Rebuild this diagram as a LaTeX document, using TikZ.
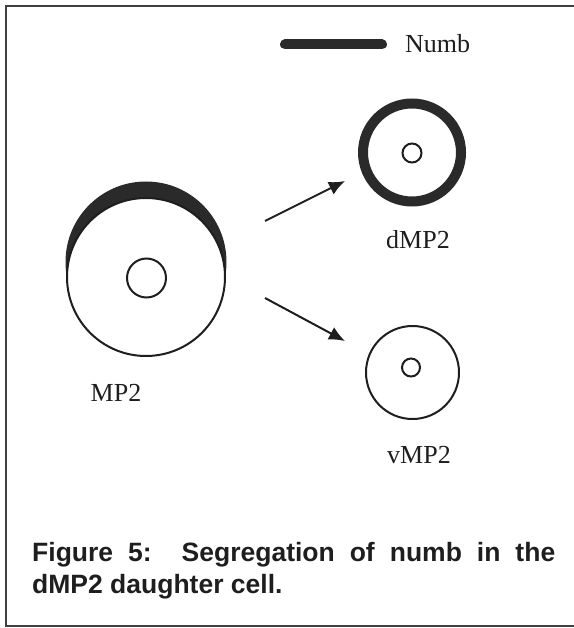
\documentclass[tikz,border=0pt]{standalone}
\usepackage{fontspec}
\setmainfont{Liberation Serif}
\newfontfamily\capfont{Liberation Sans}
\usetikzlibrary{arrows.meta}
\definecolor{ink}{HTML}{1E1E1E}
\definecolor{numbfill}{HTML}{2A2A2A}
\tikzset{
  cellwall/.style={circle, draw=ink, fill=white, line width=2pt, inner sep=0pt},
  nucleus/.style={circle, draw=ink, fill=white, line width=2pt, inner sep=0pt},
  celllabel/.style={font=\fontsize{26}{30}\selectfont, text=ink, inner sep=0pt},
  division/.style={draw=ink, line width=2pt, -{Latex[length=16pt,width=14pt]}},
  framestroke/.style={draw=ink!85, line width=2pt},
}
\begin{document}
\begin{tikzpicture}[x=1pt, y=-1pt]
\useasboundingbox (0,0) rectangle (573,628);

% open frame (no right side)
\coordinate (fr1) at (574,6.5);
\coordinate (fr2) at (5.5,6.5);
\coordinate (fr3) at (5.5,626);
\coordinate (fr4) at (574,626);
\draw[framestroke] (fr1) -- (fr2) -- (fr3) -- (fr4);

% legend
\coordinate (lg1) at (285,44.5);
\coordinate (lg2) at (382,44.5);
\draw[draw=numbfill, line width=10pt, line cap=round] (lg1) -- (lg2);
\node[celllabel, anchor=west] (numblab) at (405,44) {Numb};

% mother cell with its Numb crescent
\fill[numbfill] (146,262) circle[radius=80.5];
\node[cellwall, minimum size=158pt] (mp2) at (146,277) {};
\node[nucleus, minimum size=39pt] (mp2n) at (146.5,278) {};
\node[celllabel] (mp2lab) at (116,393) {MP2};

% dorsal daughter inherits Numb
\node[circle, draw=numbfill, fill=white, line width=10pt, inner sep=0pt, minimum size=98pt] (dmp2) at (412,152.5) {};
\node[nucleus, minimum size=19pt] (dmp2n) at (412,153) {};
\node[celllabel] (dmp2lab) at (418,240) {dMP2};

% ventral daughter
\node[cellwall, minimum size=93pt] (vmp2) at (412.5,372.5) {};
\node[nucleus, minimum size=18pt] (vmp2n) at (411,367.5) {};
\node[celllabel] (vmp2lab) at (419,455) {vMP2};

% division arrows
\coordinate (a1s) at (265,221);
\coordinate (a1e) at (345,181);
\coordinate (a2s) at (265,298);
\coordinate (a2e) at (345,341);
\draw[division] (a1s) -- (a1e);
\draw[division] (a2s) -- (a2e);

% caption
\node[anchor=base west, inner sep=0pt, font=\capfont\bfseries\fontsize{26.5}{32}\selectfont, text=ink] (cap1) at (32,561)
  {\makebox[523pt][s]{Figure 5:\ \ Segregation of numb in the}};
\node[anchor=base west, inner sep=0pt, font=\capfont\bfseries\fontsize{26.5}{32}\selectfont, text=ink] (cap2) at (32,593)
  {dMP2 daughter cell.};
\end{tikzpicture}
\end{document}
